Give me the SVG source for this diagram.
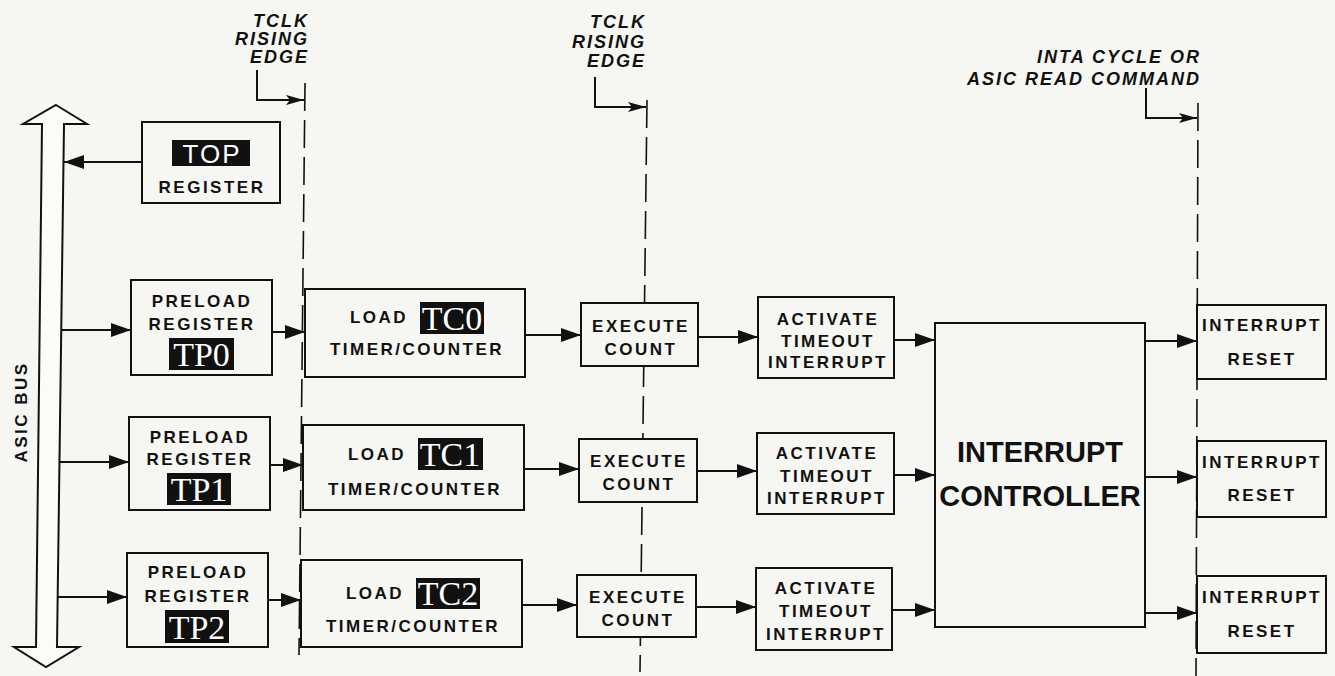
<svg xmlns="http://www.w3.org/2000/svg" width="1335" height="676" viewBox="0 0 1335 676">
<style>
.bg{fill:#f6f6f2}
.box{fill:#f6f6f2;stroke:#111;stroke-width:2}
.t{font-family:"Liberation Sans",Arial,sans-serif;font-weight:bold;font-size:17px;letter-spacing:2.5px;fill:#111;text-anchor:middle}
.big{font-family:"Liberation Sans",Arial,sans-serif;font-weight:bold;font-size:29px;fill:#111;text-anchor:middle}
.lab{font-family:"Liberation Sans",Arial,sans-serif;font-weight:bold;font-style:italic;font-size:18px;letter-spacing:2px;fill:#111;text-anchor:end}
.inv{fill:#111}
.invt{font-family:"Liberation Serif","Times New Roman",serif;font-size:34px;fill:#fff;text-anchor:middle}
.topt{font-family:"Liberation Sans",Arial,sans-serif;font-size:26px;letter-spacing:2px;fill:#fff;text-anchor:middle}
.ln{fill:none;stroke:#111;stroke-width:2}
.dash{fill:none;stroke:#111;stroke-width:1.6;stroke-dasharray:28 9}
</style>
<defs>
<marker id="ah" markerUnits="userSpaceOnUse" markerWidth="22" markerHeight="16" refX="20" refY="7" orient="auto">
<path d="M0,0 L20,7 L0,14 z" fill="#111"/>
</marker>
<marker id="ah2" markerUnits="userSpaceOnUse" markerWidth="20" markerHeight="12" refX="18" refY="5" orient="auto">
<path d="M0,0 L18,5 L0,10 L4,5 z" fill="#111"/>
</marker>
</defs>
<rect class="bg" x="0" y="0" width="1335" height="676"/>

<g id="timing">
<text class="lab" x="309" y="27">TCLK</text>
<text class="lab" x="309" y="45">RISING</text>
<text class="lab" x="309" y="63">EDGE</text>
<text class="lab" x="646" y="28">TCLK</text>
<text class="lab" x="646" y="48">RISING</text>
<text class="lab" x="646" y="67">EDGE</text>
<text class="lab" x="1201" y="63">INTA CYCLE OR</text>
<text class="lab" x="1201" y="85">ASIC READ COMMAND</text>
</g>

<g id="connectors">
<path class="dash" d="M305,83 L299,655"/>
<path class="dash" d="M647,100 L640,672"/>
<path class="dash" d="M1198,103 L1196,676"/>
<path class="ln" d="M257,70 V100 H304" marker-end="url(#ah2)"/>
<path class="ln" d="M595,77 V107 H646" marker-end="url(#ah2)"/>
<path class="ln" d="M1146,88 V118 H1197" marker-end="url(#ah2)"/>
<path class="ln" d="M142,162 H64" marker-end="url(#ah)"/>
<path class="ln" d="M62,330 H131" marker-end="url(#ah)"/>
<path class="ln" d="M60,462 H129" marker-end="url(#ah)"/>
<path class="ln" d="M57,597 H127" marker-end="url(#ah)"/>
<path class="ln" d="M272,332 H305" marker-end="url(#ah)"/>
<path class="ln" d="M270,465 H303" marker-end="url(#ah)"/>
<path class="ln" d="M268,600 H301" marker-end="url(#ah)"/>
<path class="ln" d="M525,335 H581" marker-end="url(#ah)"/>
<path class="ln" d="M524,469 H579" marker-end="url(#ah)"/>
<path class="ln" d="M522,605 H577" marker-end="url(#ah)"/>
<path class="ln" d="M698,337 H758" marker-end="url(#ah)"/>
<path class="ln" d="M697,471 H757" marker-end="url(#ah)"/>
<path class="ln" d="M696,607 H756" marker-end="url(#ah)"/>
<path class="ln" d="M894,340 H935" marker-end="url(#ah)"/>
<path class="ln" d="M894,475 H935" marker-end="url(#ah)"/>
<path class="ln" d="M892,610 H935" marker-end="url(#ah)"/>
<path class="ln" d="M1145,341 H1197" marker-end="url(#ah)"/>
<path class="ln" d="M1145,477 H1197" marker-end="url(#ah)"/>
<path class="ln" d="M1145,613 H1197" marker-end="url(#ah)"/>
</g>

<g id="asic-bus">
<polygon points="56,105 87,124 64,124 57,647 79,647 46,667 14,647 36,647 42,124 23,124" fill="#fbfbf8" stroke="#111" stroke-width="2"/>
<text class="t" transform="translate(27,412) rotate(-90)">ASIC BUS</text>
</g>

<g id="top-register">
<rect class="box" x="142" y="122" width="138" height="81"/>
<rect class="inv" x="172" y="140" width="78" height="26"/>
<text class="topt" x="212" y="163">TOP</text>
<text class="t" x="212" y="193">REGISTER</text>
</g>

<g id="preload0">
<rect class="box" x="131" y="280" width="141" height="95"/>
<text class="t" x="202" y="307">PRELOAD</text>
<text class="t" x="202" y="330">REGISTER</text>
<rect class="inv" x="169" y="338" width="65" height="32"/>
<text class="invt" x="201.5" y="366">TP0</text>
</g>
<g id="preload1">
<rect class="box" x="129" y="417" width="141" height="93"/>
<text class="t" x="200" y="443">PRELOAD</text>
<text class="t" x="200" y="465">REGISTER</text>
<rect class="inv" x="167" y="473" width="64" height="32"/>
<text class="invt" x="199" y="501">TP1</text>
</g>
<g id="preload2">
<rect class="box" x="127" y="553" width="141" height="94"/>
<text class="t" x="198" y="578">PRELOAD</text>
<text class="t" x="198" y="602">REGISTER</text>
<rect class="inv" x="165" y="610" width="64" height="33"/>
<text class="invt" x="197" y="639">TP2</text>
</g>

<g id="load0">
<rect class="box" x="305" y="289" width="220" height="88"/>
<text class="t" x="379" y="323">LOAD</text>
<rect class="inv" x="420" y="302" width="64" height="32"/>
<text class="invt" x="452" y="330">TC0</text>
<text class="t" x="417" y="355">TIMER/COUNTER</text>
</g>
<g id="load1">
<rect class="box" x="303" y="425" width="221" height="85"/>
<text class="t" x="377" y="460">LOAD</text>
<rect class="inv" x="418" y="438" width="65" height="32"/>
<text class="invt" x="450" y="466">TC1</text>
<text class="t" x="415" y="495">TIMER/COUNTER</text>
</g>
<g id="load2">
<rect class="box" x="301" y="560" width="221" height="87"/>
<text class="t" x="375" y="599">LOAD</text>
<rect class="inv" x="416" y="578" width="64" height="31"/>
<text class="invt" x="448" y="605">TC2</text>
<text class="t" x="413" y="632">TIMER/COUNTER</text>
</g>

<g id="execute0">
<rect class="box" x="581" y="303" width="117" height="63"/>
<text class="t" x="641" y="332">EXECUTE</text>
<text class="t" x="641" y="355">COUNT</text>
</g>
<g id="execute1">
<rect class="box" x="579" y="439" width="118" height="63"/>
<text class="t" x="639" y="467">EXECUTE</text>
<text class="t" x="639" y="490">COUNT</text>
</g>
<g id="execute2">
<rect class="box" x="577" y="575" width="119" height="62"/>
<text class="t" x="638" y="603">EXECUTE</text>
<text class="t" x="638" y="626">COUNT</text>
</g>

<g id="activate0">
<rect class="box" x="758" y="297" width="136" height="81"/>
<text class="t" x="828" y="325">ACTIVATE</text>
<text class="t" x="828" y="347">TIMEOUT</text>
<text class="t" x="828" y="368">INTERRUPT</text>
</g>
<g id="activate1">
<rect class="box" x="757" y="433" width="137" height="81"/>
<text class="t" x="827" y="459">ACTIVATE</text>
<text class="t" x="827" y="482">TIMEOUT</text>
<text class="t" x="827" y="504">INTERRUPT</text>
</g>
<g id="activate2">
<rect class="box" x="756" y="568" width="136" height="82"/>
<text class="t" x="826" y="594">ACTIVATE</text>
<text class="t" x="826" y="617">TIMEOUT</text>
<text class="t" x="826" y="640">INTERRUPT</text>
</g>

<g id="interrupt-controller">
<rect class="box" x="935" y="323" width="210" height="304"/>
<text class="big" x="1040" y="462">INTERRUPT</text>
<text class="big" x="1040" y="506">CONTROLLER</text>
</g>

<g id="reset0">
<rect class="box" x="1197" y="305" width="129" height="74"/>
<text class="t" x="1262" y="331">INTERRUPT</text>
<text class="t" x="1262" y="365">RESET</text>
</g>
<g id="reset1">
<rect class="box" x="1197" y="441" width="129" height="76"/>
<text class="t" x="1262" y="468">INTERRUPT</text>
<text class="t" x="1262" y="501">RESET</text>
</g>
<g id="reset2">
<rect class="box" x="1197" y="576" width="129" height="77"/>
<text class="t" x="1262" y="603">INTERRUPT</text>
<text class="t" x="1262" y="637">RESET</text>
</g>
</svg>
